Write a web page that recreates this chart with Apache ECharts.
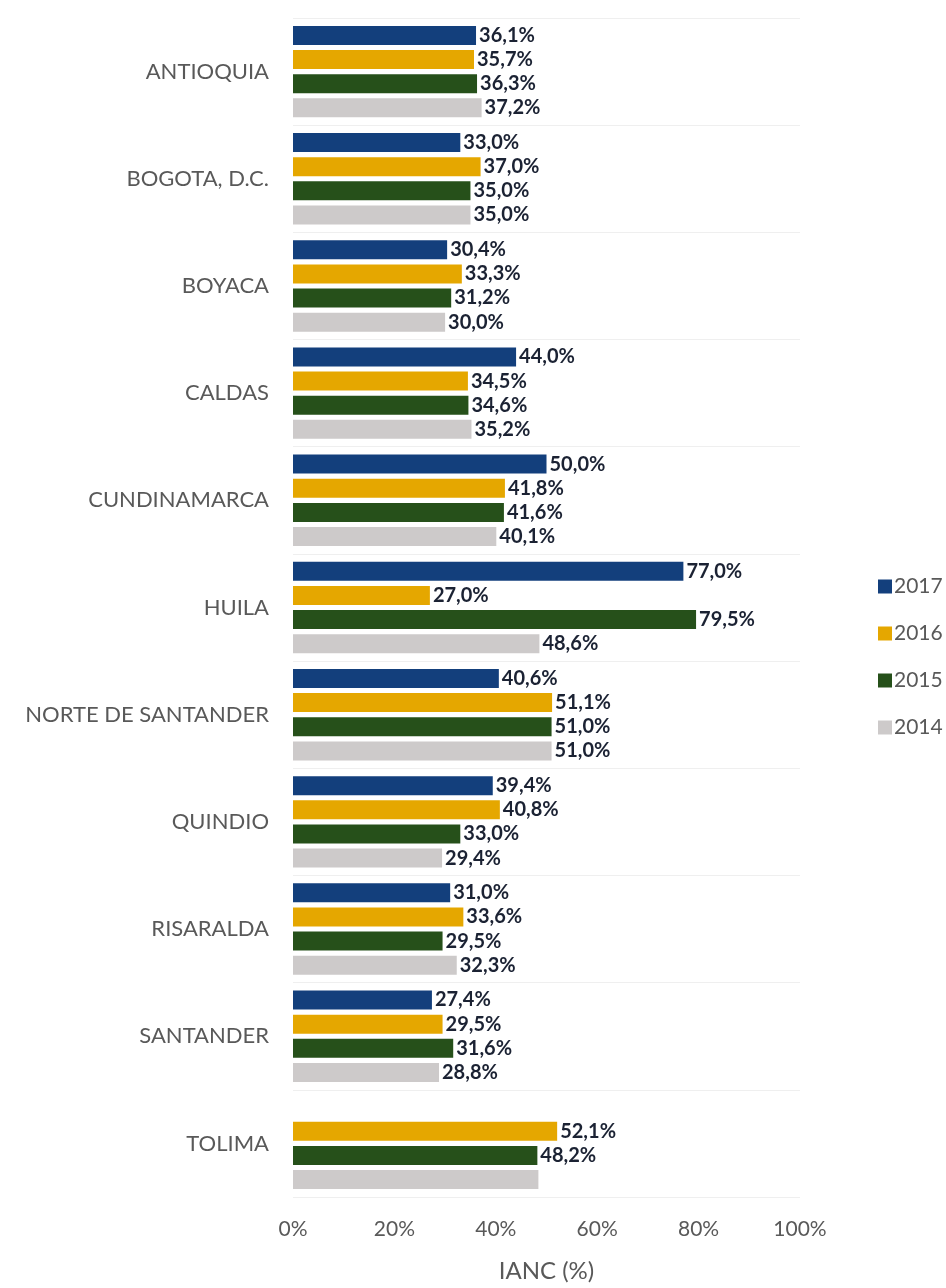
<!DOCTYPE html>
<html>
<head>
<meta charset="utf-8">
<script src="https://cdn.jsdelivr.net/npm/echarts@6/dist/echarts.min.js"></script>
<style>
  html, body { margin: 0; padding: 0; background: #fff; }
  #chart { width: 946px; height: 1288px; }
</style>
</head>
<body>
<div id="chart"></div>
<script>
const categories = ['ANTIOQUIA', 'BOGOTA, D.C.', 'BOYACA', 'CALDAS', 'CUNDINAMARCA', 'HUILA',
  'NORTE DE SANTANDER', 'QUINDIO', 'RISARALDA', 'SANTANDER', 'TOLIMA'];
const years = ['2017', '2016', '2015', '2014'];
const v2017 = [36.1, 33.0, 30.4, 44.0, 50.0, 77.0, 40.6, 39.4, 31.0, 27.4, null];
const v2016 = [35.7, 37.0, 33.3, 34.5, 41.8, 27.0, 51.1, 40.8, 33.6, 29.5, 52.1];
const v2015 = [36.3, 35.0, 31.2, 34.6, 41.6, 79.5, 51.0, 33.0, 29.5, 31.6, 48.2];
const v2014 = [37.2, 35.0, 30.0, 35.2, 40.1, 48.6, 51.0, 29.4, 32.3, 28.8, 48.4];
// Tolima 2014 has no label in the original
const hiddenLabels = { '2014': [10] };
const xTicks = [0, 20, 40, 60, 80, 100];

const colors = ['#133f7c', '#e5a700', '#26501a', '#cdcaca'];
const values = [v2017, v2016, v2015, v2014];

const chart = echarts.init(document.getElementById('chart'));

const series = years.map((y, i) => ({
  name: y,
  type: 'bar',
  barWidth: 19,
  barGap: '27%',
  itemStyle: { color: colors[i] },
  data: values[i].map((v, j) => {
    const hide = (hiddenLabels[y] || []).includes(j);
    return v == null ? '-' : { value: v, label: { show: !hide } };
  }),
  label: {
    show: true,
    position: 'right',
    distance: 3,
    color: '#1b2233',
    fontFamily: 'Lato',
    fontWeight: 'bold',
    fontSize: 20,
    formatter: p => p.value.toFixed(1).replace('.', ',') + '%'
  }
}));

chart.setOption({
  animation: false,
  legend: {
    orient: 'vertical',
    left: 873,
    top: 571,
    itemWidth: 14,
    itemHeight: 14,
    itemGap: 26,
    icon: 'rect',
    textStyle: { color: '#595959', fontFamily: 'Lato', fontSize: 21, padding: [0, 0, 0, -3] },
    data: years
  },
  grid: { left: 293, right: 146, top: 18, bottom: 88 },
  xAxis: {
    type: 'value',
    min: 0,
    max: 100,
    interval: 20,
    name: 'IANC (%)',
    nameLocation: 'middle',
    nameGap: 62,
    nameTextStyle: { color: '#595959', fontFamily: 'Lato', fontSize: 24 },
    axisLabel: {
      color: '#595959', fontFamily: 'Lato', fontSize: 21, margin: 22,
      formatter: v => xTicks.includes(v) ? v + '%' : ''
    },
    axisLine: { show: false },
    axisTick: { show: false },
    splitLine: { show: false }
  },
  yAxis: {
    type: 'category',
    inverse: true,
    data: categories,
    axisLabel: { color: '#595959', fontFamily: 'Lato', fontSize: 22, margin: 24 },
    axisLine: { show: false },
    axisTick: { show: false },
    splitLine: { show: true, lineStyle: { color: '#efefef', width: 1 } }
  },
  series: series
});

window.addEventListener('resize', () => chart.resize());
</script>
</body>
</html>
